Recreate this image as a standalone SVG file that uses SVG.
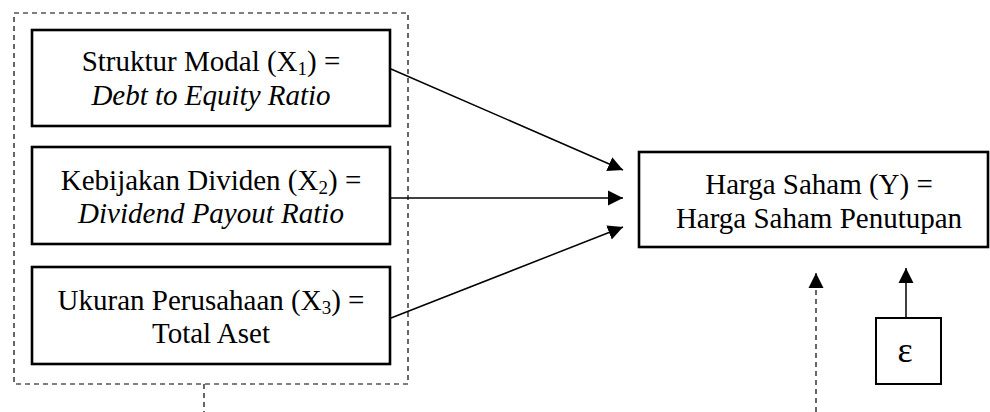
<svg xmlns="http://www.w3.org/2000/svg" width="990" height="412" viewBox="0 0 990 412">
<style>
.box{fill:#fff;stroke:#000;stroke-width:2.6}
.sbox{fill:#fff;stroke:#000;stroke-width:2}
.dash{fill:none;stroke:#000;stroke-width:1.2;stroke-dasharray:5 4}
.line{fill:none;stroke:#000;stroke-width:1.5}
text{font-family:"Liberation Serif","Times New Roman",serif;font-size:29px;fill:#000;text-anchor:middle}
.it{font-style:italic}
.eps{font-size:36px}
</style>
<defs>
<marker id="ah" markerUnits="userSpaceOnUse" markerWidth="16" markerHeight="16" viewBox="0 0 16 16" refX="15" refY="8" orient="auto">
<path d="M0,0.5 L15,8 L0,15.5 Z" fill="#000"/>
</marker>
</defs>
<rect x="14" y="13" width="394" height="371" class="dash"/>
<g id="connectors">
<line x1="204" y1="384" x2="204" y2="412" class="dash"/>
<line x1="391" y1="69" x2="623" y2="170" class="line" marker-end="url(#ah)"/>
<line x1="391" y1="198" x2="623" y2="198" class="line" marker-end="url(#ah)"/>
<line x1="391" y1="318" x2="623" y2="227" class="line" marker-end="url(#ah)"/>
<line x1="816" y1="412" x2="816" y2="273" class="dash" marker-end="url(#ah)"/>
<line x1="906" y1="318" x2="906" y2="268" class="line" marker-end="url(#ah)"/>
</g>
<g id="x1">
<rect x="32" y="30" width="358" height="96" class="box"/>
<text x="211" y="71">Struktur Modal (X<tspan font-size="19" dy="4">1</tspan><tspan dy="-4">) =</tspan></text>
<text x="211" y="105" class="it">Debt to Equity Ratio</text>
</g>
<g id="x2">
<rect x="32" y="147" width="358" height="97" class="box"/>
<text x="211" y="190">Kebijakan Dividen (X<tspan font-size="19" dy="4">2</tspan><tspan dy="-4">) =</tspan></text>
<text x="211" y="223" class="it">Dividend Payout Ratio</text>
</g>
<g id="x3">
<rect x="32" y="267" width="358" height="97" class="box"/>
<text x="211" y="310">Ukuran Perusahaan (X<tspan font-size="19" dy="4">3</tspan><tspan dy="-4">) =</tspan></text>
<text x="211" y="343">Total Aset</text>
</g>
<g id="y">
<rect x="639" y="152" width="349" height="95" class="box"/>
<text x="819" y="194">Harga Saham (Y) =</text>
<text x="819" y="228">Harga Saham Penutupan</text>
</g>
<g id="e">
<rect x="876" y="318" width="65" height="66" class="sbox"/>
<text x="905" y="362" class="eps">ε</text>
</g>
</svg>
